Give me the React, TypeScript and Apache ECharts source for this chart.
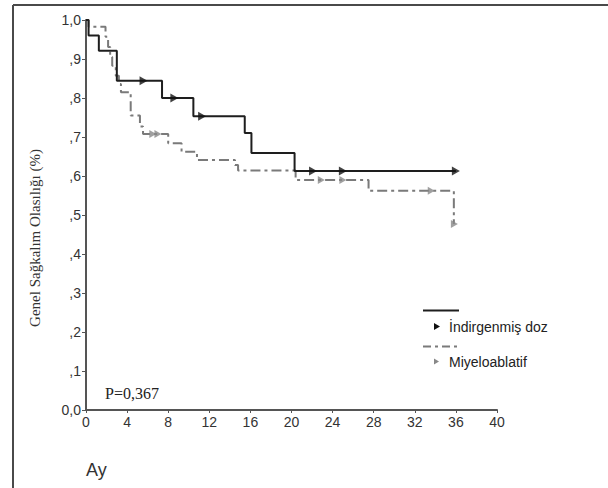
import React, { useEffect, useRef } from "react";
import * as echarts from "echarts";

// Kaplan–Meier steps (months, survival probability)
const reducedTimes = [0, 0.25, 1.25, 3.0, 7.4, 10.45, 15.45, 16.1, 20.3, 36];
const reducedSurv = [1.0, 0.96, 0.921, 0.844, 0.8, 0.753, 0.71, 0.659, 0.613, 0.613];
const reducedCensorTimes = [5.6, 8.6, 11.3, 22.1, 25.0, 36.0];
const reducedCensorSurv = [0.844, 0.8, 0.753, 0.613, 0.613, 0.613];

const myeloTimes = [0, 0.25, 1.9, 2.15, 2.35, 2.55, 2.9, 3.2, 3.4, 4.35, 5.25, 5.55, 8.0, 9.3, 10.8, 14.5, 14.8, 20.4, 27.5, 35.8];
const myeloSurv = [1.0, 0.983, 0.957, 0.931, 0.905, 0.883, 0.857, 0.836, 0.815, 0.755, 0.727, 0.708, 0.684, 0.662, 0.641, 0.628, 0.614, 0.59, 0.562, 0.477];
const myeloCensorTimes = [6.5, 7.0, 22.9, 25.0, 33.6, 35.85];
const myeloCensorSurv = [0.708, 0.708, 0.59, 0.59, 0.562, 0.477];

const seriesNames = ["İndirgenmiş doz", "Miyeloablatif"];
const yAxisTitle = "Genel Sağkalım Olasılığı (%)";
const xAxisTitle = "Ay";
const pValueText = "P=0,367";

const TRI = "path://M0,0L10,5L0,10Z";

export default function App() {
  const ref = useRef<HTMLDivElement>(null);
  useEffect(() => {
    document.body.style.margin = "0";
    const chart = echarts.init(ref.current!, null, { renderer: "svg" });
    const zip = (a: number[], b: number[]) => a.map((t, i) => [t, b[i]]);
    const frameColor = "#4a4a4a";
    chart.setOption({
      animation: false,
      backgroundColor: "#fff",
      grid: { left: 86, right: 111, top: 20, bottom: 78 },
      xAxis: {
        type: "value",
        min: 0,
        max: 40,
        interval: 4,
        splitLine: { show: false },
        axisLine: { lineStyle: { color: "#555", width: 2 } },
        axisTick: { length: 3, lineStyle: { color: "#555" } },
        axisLabel: { color: "#333", fontFamily: "Arial", fontSize: 14, margin: 5 },
      },
      yAxis: {
        type: "value",
        min: 0,
        max: 1,
        interval: 0.1,
        splitLine: { show: false },
        axisLine: { show: true, lineStyle: { color: "#555", width: 2 } },
        axisTick: { show: true, length: 4, lineStyle: { color: "#555" } },
        axisLabel: {
          color: "#333",
          fontFamily: "Arial",
          fontSize: 14,
          margin: 5,
          formatter: (v: number) => {
            const d = Math.round(v * 10);
            if (d === 0) return "0,0";
            if (d === 10) return "1,0";
            return "," + d;
          },
        },
      },
      series: [
        {
          name: seriesNames[0],
          type: "line",
          step: "end",
          data: zip(reducedTimes, reducedSurv),
          showSymbol: false,
          lineStyle: { color: "#1e1e1e", width: 2 },
          z: 3,
        },
        {
          name: seriesNames[1],
          type: "line",
          step: "end",
          data: zip(myeloTimes, myeloSurv),
          showSymbol: false,
          lineStyle: { color: "#7a7a7a", width: 2, type: [10, 4, 3, 4] },
          z: 2,
        },
        {
          type: "scatter",
          data: zip(reducedCensorTimes, reducedCensorSurv),
          symbol: TRI,
          symbolSize: [8, 9],
          itemStyle: { color: "#111" },
          z: 4,
        },
        {
          type: "scatter",
          data: zip(myeloCensorTimes, myeloCensorSurv),
          symbol: TRI,
          symbolSize: [7, 8],
          itemStyle: { color: "#888" },
          z: 4,
        },
      ],
      graphic: [
        { type: "line", shape: { x1: 13, y1: 5, x2: 608, y2: 5 }, style: { stroke: frameColor, lineWidth: 2 } },
        { type: "line", shape: { x1: 13, y1: 5, x2: 13, y2: 488 }, style: { stroke: frameColor, lineWidth: 2 } },
        {
          type: "text",
          x: 35,
          y: 238,
          rotation: Math.PI / 2,
          style: {
            text: yAxisTitle,
            font: "15px 'Liberation Serif', 'Times New Roman', serif",
            fill: "#333",
            align: "center",
            verticalAlign: "middle",
          },
        },
        {
          type: "text",
          x: 86,
          y: 470,
          style: { text: xAxisTitle, font: "18px Arial, 'Liberation Sans', sans-serif", fill: "#333", verticalAlign: "middle" },
        },
        {
          type: "text",
          x: 105,
          y: 393,
          style: { text: pValueText, font: "16px 'Liberation Serif', 'Times New Roman', serif", fill: "#222", verticalAlign: "middle" },
        },
        // legend
        { type: "line", shape: { x1: 423, y1: 310.5, x2: 459, y2: 310.5 }, style: { stroke: "#1e1e1e", lineWidth: 2 } },
        { type: "polygon", shape: { points: [[434, 323], [440, 326.5], [434, 330]] }, style: { fill: "#111" } },
        {
          type: "text",
          x: 449,
          y: 327,
          style: { text: seriesNames[0], font: "14px Arial, 'Liberation Sans', sans-serif", fill: "#222", verticalAlign: "middle" },
        },
        { type: "line", shape: { x1: 423, y1: 346.5, x2: 459, y2: 346.5 }, style: { stroke: "#7a7a7a", lineWidth: 2, lineDash: [8, 4, 3, 4] } },
        { type: "polygon", shape: { points: [[434, 358.5], [439, 361.5], [434, 364.5]] }, style: { fill: "#888" } },
        {
          type: "text",
          x: 449,
          y: 362,
          style: { text: seriesNames[1], font: "14px Arial, 'Liberation Sans', sans-serif", fill: "#222", verticalAlign: "middle" },
        },
      ],
    });
    return () => chart.dispose();
  }, []);
  return <div ref={ref} style={{ width: 608, height: 488 }} />;
}
